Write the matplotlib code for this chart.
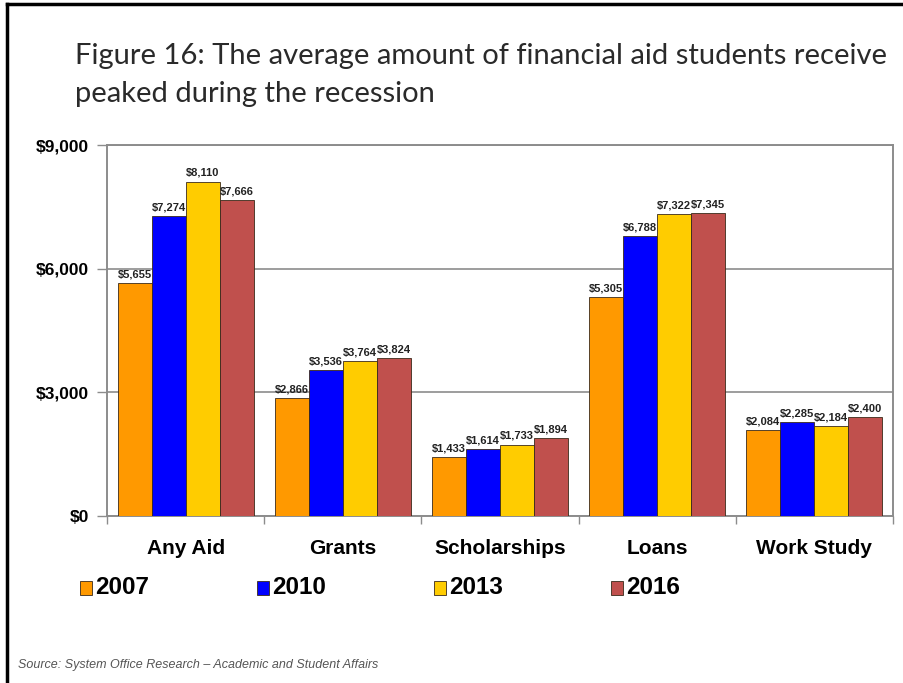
import numpy as np
import matplotlib
matplotlib.use("Agg")
import matplotlib.pyplot as plt
from matplotlib.patches import Rectangle
from matplotlib.lines import Line2D

categories = ["Any Aid", "Grants", "Scholarships", "Loans", "Work Study"]
years = ["2007", "2010", "2013", "2016"]
aid_2007 = [5655, 2866, 1433, 5305, 2084]
aid_2010 = [7274, 3536, 1614, 6788, 2285]
aid_2013 = [8110, 3764, 1733, 7322, 2184]
aid_2016 = [7666, 3824, 1894, 7345, 2400]
yticks = [0, 3000, 6000, 9000]

series = [aid_2007, aid_2010, aid_2013, aid_2016]
colors = ["#FF9900", "#0000FF", "#FFCC00", "#C0504D"]

W, H = 904, 683
fig = plt.figure(figsize=(W / 100, H / 100), dpi=100)
ax = fig.add_axes([107 / W, 1 - 516 / H, (893 - 107) / W, (516 - 145) / H])

x = np.arange(len(categories))
bw = 0.216
for i, (vals, c) in enumerate(zip(series, colors)):
    pos = x + (i - 1.5) * bw
    ax.bar(pos, vals, width=bw, color=c, edgecolor="#3a2a1a", linewidth=0.6,
           label=years[i], zorder=3)
    for p, v in zip(pos, vals):
        ax.text(p, v + 90, f"${v:,}", ha="center", va="bottom",
                fontsize=8, fontweight="bold", family="Liberation Sans",
                color="#222222", zorder=4)

ax.set_xlim(-0.5, len(categories) - 0.5)
ax.set_ylim(0, 9000)
ax.set_yticks(yticks)
ax.set_yticklabels([f"${t:,}" for t in yticks], fontsize=12.5, fontweight="bold",
                   family="Liberation Sans")
ax.yaxis.grid(True, color="#8c8c8c", linewidth=1.2, zorder=0)
ax.tick_params(axis="y", length=7, width=1, color="#8c8c8c", pad=6)

# category separators as ticks
ax.set_xticks(np.arange(-0.5, len(categories), 1.0))
ax.set_xticklabels([])
ax.tick_params(axis="x", length=6, width=1, color="#8c8c8c", direction="out")
for xi, name in zip(x, categories):
    ax.text(xi, -790, name, ha="center", va="center", fontsize=15,
            fontweight="bold", family="Liberation Sans")

for s in ax.spines.values():
    s.set_color("#8c8c8c")
    s.set_linewidth(1.4)

# legend drawn in figure pixels
for i, (yr, c) in enumerate(zip(years, colors)):
    lx = 80 + i * 177
    fig.patches.append(Rectangle((lx / W, 1 - 595 / H), 12 / W, 14 / H,
                                 transform=fig.transFigure, facecolor=c,
                                 edgecolor="#3a2a1a", linewidth=0.6))
    fig.text((lx + 15) / W, 1 - 588 / H, yr, ha="left", va="center",
             fontsize=17.5, fontweight="bold", family="Liberation Sans")

fig.text(75 / W, 1 - 56 / H, "Figure 16: The average amount of financial aid students receive",
         fontsize=21, family="Lato", color="#2a2a2a", va="center", ha="left")
fig.text(75 / W, 1 - 94 / H, "peaked during the recession",
         fontsize=21, family="Lato", color="#2a2a2a", va="center", ha="left")

fig.text(18 / W, 1 - 665 / H, "Source: System Office Research \u2013 Academic and Student Affairs",
         fontsize=9, style="italic", family="Liberation Sans", color="#555555",
         va="center", ha="left")

# slide border (top and left)
fig.add_artist(Line2D([7 / W, 1], [1 - 4 / H, 1 - 4 / H], transform=fig.transFigure,
                      color="black", linewidth=2.5))
fig.add_artist(Line2D([7 / W, 7 / W], [0, 1 - 4 / H], transform=fig.transFigure,
                      color="black", linewidth=2.5))

fig.savefig("out.png", dpi=100)
